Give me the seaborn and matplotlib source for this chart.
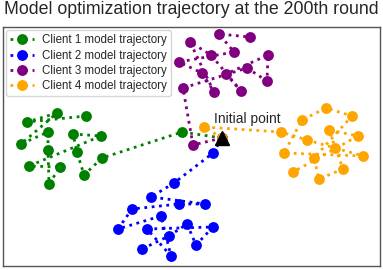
import numpy as np
import pandas as pd
import matplotlib
matplotlib.use('Agg')
import matplotlib.pyplot as plt
import seaborn as sns

# Trajectory points (2-D projection), first point is the shared initial model
init_point = (222, 138)

client1_x = [222, 182, 102, 84, 77, 73, 101, 29, 60, 49, 48, 48, 21, 57, 27, 86]
client1_y = [138, 132, 158, 175, 152, 134, 136, 166, 167, 184, 150, 132, 144, 113, 122, 116]

client2_x = [222, 213, 174, 151, 205, 179, 132, 118, 161, 171, 147, 213, 196, 187, 169, 142]
client2_y = [138, 153, 183, 197, 204, 204, 209, 229, 216, 256, 229, 227, 245, 224, 236, 249]

client3_x = [222, 193, 183, 247, 267, 268, 226, 241, 211, 190, 214, 202, 179, 234, 219, 250]
client3_y = [138, 145, 88, 68, 81, 55, 74, 91, 55, 42, 92, 73, 62, 52, 34, 37]

client4_x = [222, 204, 281, 307, 335, 363, 284, 302, 326, 352, 314, 319, 343, 329, 358, 293]
client4_y = [138, 127, 132, 140, 148, 156, 153, 120, 108, 116, 158, 179, 169, 130, 136, 172]

labels = ['Client 1 model trajectory', 'Client 2 model trajectory',
          'Client 3 model trajectory', 'Client 4 model trajectory']
colors = ['green', 'blue', 'purple', 'orange']

sns.set_style('white')
plt.rcParams['font.family'] = ['Liberation Sans', 'DejaVu Sans']

fig = plt.figure(figsize=(3.83, 2.70), dpi=100)
ax = fig.add_axes([3 / 383, 1 - 266 / 270, 377 / 383, 239 / 270])

series = [(client1_x, client1_y), (client2_x, client2_y),
          (client3_x, client3_y), (client4_x, client4_y)]
for (xs, ys), lab, col in zip(series, labels, colors):
    sns.lineplot(x=xs, y=ys, sort=False, estimator=None, ax=ax, color=col,
                 label=lab, linestyle=':', linewidth=2, marker='o',
                 markersize=7.8, markeredgewidth=0)

ax.plot(init_point[0], init_point[1], marker='^', color='black',
        markersize=10, linestyle='none')
ax.text(214, 119, 'Initial point', fontsize=10, va='center', ha='left')

ax.set_xlim(3, 380)
ax.set_ylim(266, 27)
ax.set_xticks([])
ax.set_yticks([])
for s in ax.spines.values():
    s.set_color('#555555')
    s.set_linewidth(1)

ax.legend(loc='upper left', fontsize=8.3, handlelength=2, borderaxespad=0.3,
          labelspacing=0.28, handletextpad=0.7, borderpad=0.35)
fig.suptitle('Model optimization trajectory at the 200th round', fontsize=12.8,
             y=0.995, va='top')

fig.savefig('out.png', dpi=100)
